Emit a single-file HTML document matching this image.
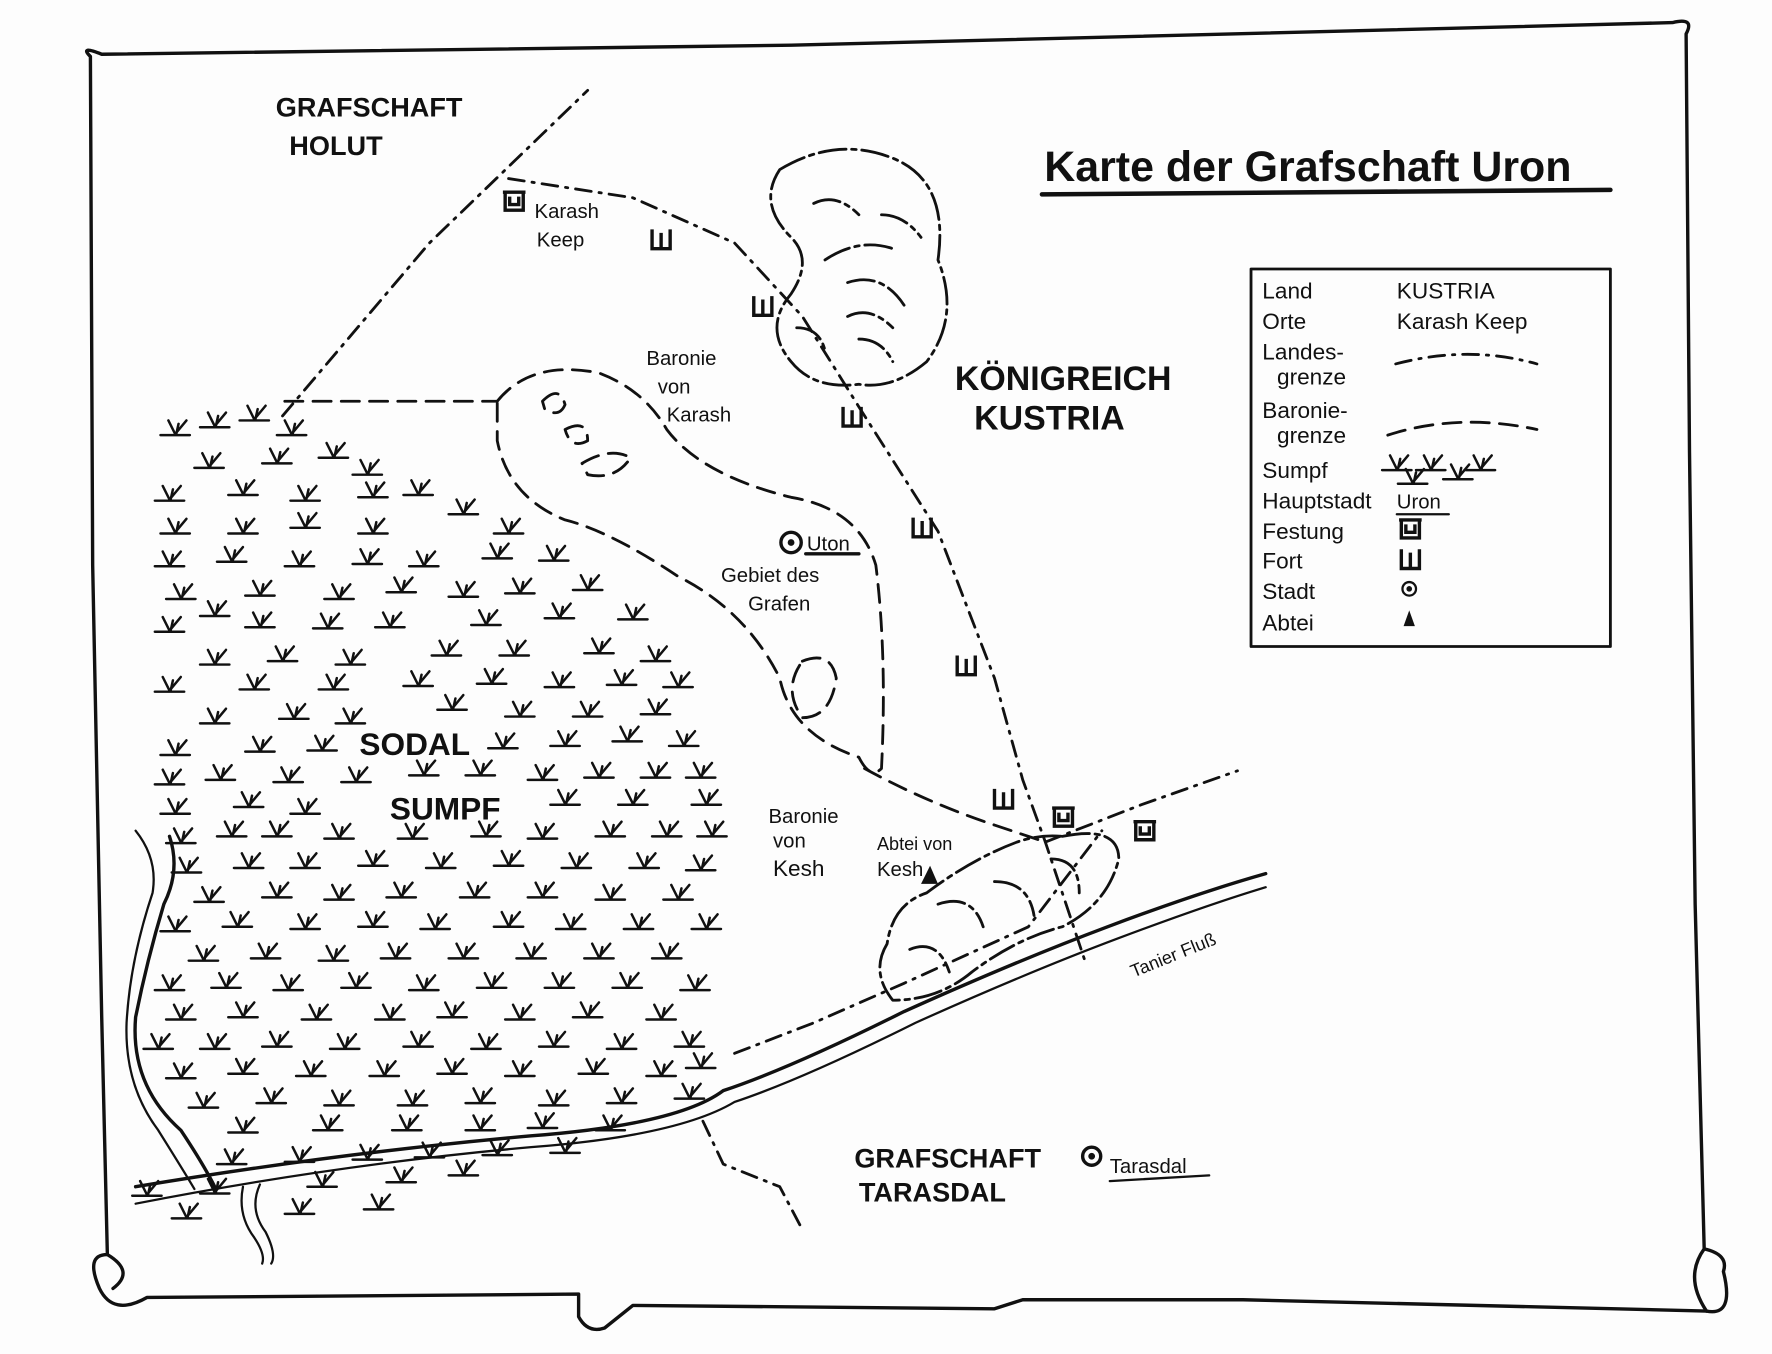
<!DOCTYPE html>
<html><head><meta charset="utf-8"><style>
html,body{margin:0;padding:0;background:#fff;}
svg{display:block;}
text{font-family:"Liberation Sans",sans-serif;font-weight:bold;fill:#111;}
.h{font-size:24px;}
.s{font-size:18px;font-weight:normal;}
.l{font-size:20px;font-weight:normal;}
</style></head><body>
<svg width="1772" height="1354" viewBox="0 0 1568 1198" preserveAspectRatio="none" xmlns="http://www.w3.org/2000/svg">
<defs>
<g id="t" fill="none" stroke="#111" stroke-width="2.2" stroke-linecap="round"><path d="M-13,0 L13,0 M-6,-13 L0,-1 L10,-13 M1,-1 L3,-10"/></g>
<g id="fe" fill="none" stroke="#111" stroke-width="3"><path d="M0,-10 L0,6 L16,6 L16,-10 M4,-6 L4,1 L12,1 L12,-6 M-2,-10 L18,-10"/></g>
<g id="fo" fill="none" stroke="#111" stroke-width="3"><path d="M0,-10 L0,7 L16,7 L16,-10 M8,-7 L8,7"/></g>
</defs>
<rect width="1568" height="1198" fill="#fdfdfd"/>
<g fill="none" stroke="#111" stroke-width="3" stroke-linecap="round" stroke-linejoin="round">
<path d="M80,50 Q70,40 90,48 L700,40 L1480,20 Q1500,15 1492,30 L1495,400 L1500,800 L1508,1105 Q1530,1110 1525,1125 Q1535,1165 1510,1160 L1100,1150 L905,1150 L880,1158 L560,1155 L535,1175 Q520,1180 512,1165 L512,1145 L130,1148 Q100,1165 88,1140 Q75,1110 95,1110 L90,900 L82,500 Z"/>
<path d="M1508,1105 Q1490,1130 1510,1160"/>
<path d="M95,1110 Q120,1125 100,1140"/>
<path d="M922,172 L1425,168" stroke-width="4"/>
<rect x="1107" y="238" width="318" height="334" stroke-width="2.5"/>
<g stroke-dasharray="14 7 2 7" stroke-width="2.5">
<path d="M250,368 L380,215 L520,80"/>
<path d="M450,158 L560,175 L650,215 L710,280 L760,360 L830,470 L880,600 L905,690 L925,745 L960,850"/>
<path d="M925,745 L1010,712 L1095,682"/>
<path d="M650,932 L720,905 L800,870 L910,820 L975,735"/>
<path d="M622,992 L640,1030 L690,1050 L710,1088"/>
<path d="M1235,322 Q1300,305 1360,322"/>
</g>
<g stroke-dasharray="16 9" stroke-width="2.5">
<path d="M252,355 L440,355"/>
<path d="M440,355 Q470,318 530,330 Q570,345 590,380 Q620,420 700,440 Q760,450 775,500 Q785,580 780,680 Q770,690 760,670 Q700,650 690,600 Q660,540 600,510 Q540,470 500,460 Q450,440 440,390 Z"/>
<path d="M765,680 Q820,710 880,730 L925,745"/>
<path d="M1228,385 Q1290,365 1360,380"/>
<path d="M480,355 Q495,340 500,358 Q495,370 482,362Z"/>
<path d="M500,380 Q520,370 520,390 Q505,398 500,380Z"/>
<path d="M515,410 Q540,395 558,405 Q545,425 520,420Z"/>
<path d="M710,585 Q735,575 740,600 Q735,635 710,635 Q692,610 710,585Z"/>
</g>
<g stroke-dasharray="24 5 4 5" stroke-width="2.5">
<path d="M690,150 Q740,120 790,140 Q840,160 830,230 Q850,280 820,320 Q790,345 760,340 Q720,345 700,320 Q675,290 700,260 Q720,230 700,210 Q670,180 690,150Z"/>
<path d="M720,180 Q740,170 760,190 M730,230 Q760,210 790,220 M750,250 Q780,240 800,270 M750,280 Q770,270 790,290 M760,300 Q780,300 790,320 M780,190 Q800,190 815,210 M705,290 Q725,290 730,310"/>
<path d="M940,740 Q990,730 990,760 Q980,800 940,820 Q900,830 860,860 Q830,885 790,885 Q770,860 785,835 Q790,800 820,790 Q860,760 900,745 Q920,738 940,740Z"/>
<path d="M830,800 Q860,790 870,820 M880,780 Q910,780 915,810 M805,840 Q830,830 840,860 M930,760 Q955,760 955,790"/>
</g>
<path d="M120,1050 Q300,1020 470,1005 Q600,995 640,965 Q700,945 800,895 Q900,850 980,820 Q1060,790 1120,773"/>
<path d="M120,1065 Q300,1030 470,1015 Q600,1005 650,975 Q710,955 810,905 Q910,860 990,830 Q1070,800 1120,785" stroke-width="2"/>
<path d="M150,740 Q160,770 145,800 Q130,850 120,900 Q115,960 160,1000 Q180,1030 190,1050"/>
<path d="M120,735 Q140,760 135,790 Q115,850 112,905 Q110,960 140,1000 Q165,1040 172,1052" stroke-width="2"/>
<path d="M230,1048 Q220,1070 235,1090 Q245,1110 240,1118 M215,1050 Q210,1075 225,1095 Q235,1110 232,1118" stroke-width="2"/>
<path d="M713,490 L760,490"/>
<path d="M982,1045 L1070,1040" stroke-width="2"/>
<path d="M1236,455 L1282,455" stroke-width="2"/>
<circle cx="700" cy="480" r="9"/><circle cx="700" cy="480" r="1.5" fill="#111"/>
<circle cx="966" cy="1023" r="8"/><circle cx="966" cy="1023" r="1.5" fill="#111"/>
<circle cx="1247" cy="521" r="6" stroke-width="2"/><circle cx="1247" cy="521" r="1" fill="#111"/>
</g>
<path d="M815,782 L823,766 L830,782Z" fill="#111"/>
<path d="M1242,554 L1247,540 L1252,554Z" fill="#111"/>
<use href="#fe" x="447" y="180"/><use href="#fe" x="933" y="725"/><use href="#fe" x="1005" y="737"/><use href="#fe" x="1240" y="470"/>
<use href="#fo" x="577" y="213"/><use href="#fo" x="667" y="272"/><use href="#fo" x="746" y="370"/><use href="#fo" x="808" y="468"/><use href="#fo" x="847" y="590"/><use href="#fo" x="880" y="708"/><use href="#fo" x="1240" y="496"/>
<use href="#t" x="1236" y="416"/><use href="#t" x="1266" y="416"/><use href="#t" x="1310" y="416"/><use href="#t" x="1250" y="428"/><use href="#t" x="1290" y="424"/>
<!-- swamp -->
<use href="#t" x="155" y="385"/><use href="#t" x="190" y="378"/><use href="#t" x="225" y="372"/><use href="#t" x="258" y="385"/>
<use href="#t" x="185" y="414"/><use href="#t" x="245" y="410"/><use href="#t" x="295" y="405"/><use href="#t" x="325" y="420"/>
<use href="#t" x="150" y="443"/><use href="#t" x="215" y="438"/><use href="#t" x="270" y="443"/><use href="#t" x="330" y="440"/><use href="#t" x="370" y="438"/>
<use href="#t" x="155" y="472"/><use href="#t" x="215" y="472"/><use href="#t" x="270" y="467"/><use href="#t" x="330" y="472"/><use href="#t" x="410" y="455"/><use href="#t" x="450" y="472"/>
<use href="#t" x="150" y="501"/><use href="#t" x="205" y="497"/><use href="#t" x="265" y="501"/><use href="#t" x="325" y="499"/><use href="#t" x="375" y="501"/><use href="#t" x="440" y="494"/><use href="#t" x="490" y="496"/>
<use href="#t" x="160" y="530"/><use href="#t" x="230" y="527"/><use href="#t" x="300" y="530"/><use href="#t" x="355" y="524"/><use href="#t" x="410" y="528"/><use href="#t" x="460" y="525"/><use href="#t" x="520" y="522"/>
<use href="#t" x="150" y="559"/><use href="#t" x="190" y="545"/><use href="#t" x="230" y="555"/><use href="#t" x="290" y="556"/><use href="#t" x="345" y="555"/><use href="#t" x="430" y="553"/><use href="#t" x="495" y="547"/><use href="#t" x="560" y="548"/>
<use href="#t" x="190" y="588"/><use href="#t" x="250" y="585"/><use href="#t" x="310" y="588"/><use href="#t" x="395" y="580"/><use href="#t" x="455" y="580"/><use href="#t" x="530" y="578"/><use href="#t" x="580" y="585"/>
<use href="#t" x="150" y="612"/><use href="#t" x="225" y="610"/><use href="#t" x="295" y="610"/><use href="#t" x="370" y="607"/><use href="#t" x="435" y="605"/><use href="#t" x="495" y="608"/><use href="#t" x="550" y="606"/><use href="#t" x="600" y="608"/>
<use href="#t" x="190" y="640"/><use href="#t" x="260" y="636"/><use href="#t" x="310" y="640"/><use href="#t" x="400" y="628"/><use href="#t" x="460" y="634"/><use href="#t" x="520" y="634"/><use href="#t" x="580" y="632"/>
<use href="#t" x="155" y="668"/><use href="#t" x="230" y="665"/><use href="#t" x="285" y="664"/><use href="#t" x="445" y="662"/><use href="#t" x="500" y="660"/><use href="#t" x="555" y="656"/><use href="#t" x="605" y="660"/>
<use href="#t" x="150" y="694"/><use href="#t" x="195" y="690"/><use href="#t" x="255" y="692"/><use href="#t" x="315" y="692"/><use href="#t" x="375" y="686"/><use href="#t" x="425" y="686"/><use href="#t" x="480" y="690"/><use href="#t" x="530" y="688"/><use href="#t" x="580" y="688"/><use href="#t" x="620" y="688"/>
<use href="#t" x="155" y="720"/><use href="#t" x="220" y="714"/><use href="#t" x="270" y="720"/><use href="#t" x="500" y="712"/><use href="#t" x="560" y="712"/><use href="#t" x="625" y="712"/>
<use href="#t" x="160" y="746"/><use href="#t" x="205" y="740"/><use href="#t" x="245" y="740"/><use href="#t" x="300" y="742"/><use href="#t" x="365" y="742"/><use href="#t" x="430" y="740"/><use href="#t" x="480" y="742"/><use href="#t" x="540" y="740"/><use href="#t" x="590" y="740"/><use href="#t" x="630" y="740"/>
<use href="#t" x="165" y="772"/><use href="#t" x="220" y="768"/><use href="#t" x="270" y="768"/><use href="#t" x="330" y="766"/><use href="#t" x="390" y="768"/><use href="#t" x="450" y="766"/><use href="#t" x="510" y="768"/><use href="#t" x="570" y="768"/><use href="#t" x="620" y="770"/>
<use href="#t" x="185" y="798"/><use href="#t" x="245" y="794"/><use href="#t" x="300" y="796"/><use href="#t" x="355" y="794"/><use href="#t" x="420" y="794"/><use href="#t" x="480" y="794"/><use href="#t" x="540" y="796"/><use href="#t" x="600" y="796"/>
<use href="#t" x="155" y="824"/><use href="#t" x="210" y="820"/><use href="#t" x="270" y="822"/><use href="#t" x="330" y="820"/><use href="#t" x="385" y="822"/><use href="#t" x="450" y="820"/><use href="#t" x="505" y="822"/><use href="#t" x="565" y="822"/><use href="#t" x="625" y="822"/>
<use href="#t" x="180" y="850"/><use href="#t" x="235" y="848"/><use href="#t" x="295" y="850"/><use href="#t" x="350" y="848"/><use href="#t" x="410" y="848"/><use href="#t" x="470" y="848"/><use href="#t" x="530" y="848"/><use href="#t" x="590" y="848"/>
<use href="#t" x="150" y="876"/><use href="#t" x="200" y="874"/><use href="#t" x="255" y="876"/><use href="#t" x="315" y="874"/><use href="#t" x="375" y="876"/><use href="#t" x="435" y="874"/><use href="#t" x="495" y="874"/><use href="#t" x="555" y="874"/><use href="#t" x="615" y="876"/>
<use href="#t" x="160" y="902"/><use href="#t" x="215" y="900"/><use href="#t" x="280" y="902"/><use href="#t" x="345" y="902"/><use href="#t" x="400" y="900"/><use href="#t" x="460" y="902"/><use href="#t" x="520" y="900"/><use href="#t" x="585" y="902"/>
<use href="#t" x="140" y="928"/><use href="#t" x="190" y="928"/><use href="#t" x="245" y="926"/><use href="#t" x="305" y="928"/><use href="#t" x="370" y="926"/><use href="#t" x="430" y="928"/><use href="#t" x="490" y="926"/><use href="#t" x="550" y="928"/><use href="#t" x="610" y="926"/>
<use href="#t" x="160" y="954"/><use href="#t" x="215" y="950"/><use href="#t" x="275" y="952"/><use href="#t" x="340" y="952"/><use href="#t" x="400" y="950"/><use href="#t" x="460" y="952"/><use href="#t" x="525" y="950"/><use href="#t" x="585" y="952"/><use href="#t" x="620" y="945"/>
<use href="#t" x="180" y="980"/><use href="#t" x="240" y="976"/><use href="#t" x="300" y="978"/><use href="#t" x="365" y="978"/><use href="#t" x="425" y="976"/><use href="#t" x="490" y="978"/><use href="#t" x="550" y="976"/><use href="#t" x="610" y="972"/>
<use href="#t" x="215" y="1002"/><use href="#t" x="290" y="1000"/><use href="#t" x="360" y="1000"/><use href="#t" x="425" y="1000"/><use href="#t" x="480" y="998"/><use href="#t" x="540" y="1000"/>
<use href="#t" x="205" y="1030"/><use href="#t" x="265" y="1028"/><use href="#t" x="325" y="1026"/><use href="#t" x="380" y="1024"/><use href="#t" x="440" y="1022"/><use href="#t" x="500" y="1020"/>
<use href="#t" x="130" y="1058"/><use href="#t" x="190" y="1056"/><use href="#t" x="285" y="1050"/><use href="#t" x="355" y="1046"/><use href="#t" x="410" y="1040"/>
<use href="#t" x="165" y="1078"/><use href="#t" x="265" y="1074"/><use href="#t" x="335" y="1070"/>
<text x="244" y="103" class="h">GRAFSCHAFT</text>
<text x="256" y="137" class="h">HOLUT</text>
<text x="924" y="160" style="font-size:38px;">Karte der Grafschaft Uron</text>
<text x="845" y="345" style="font-size:30px;">KÖNIGREICH</text>
<text x="862" y="380" style="font-size:30px;">KUSTRIA</text>
<text x="473" y="193" class="s">Karash</text>
<text x="475" y="218" class="s">Keep</text>
<text x="572" y="323" class="s">Baronie</text>
<text x="582" y="348" class="s">von</text>
<text x="590" y="373" class="s">Karash</text>
<text x="714" y="487" class="s">Uton</text>
<text x="638" y="515" class="s">Gebiet des</text>
<text x="662" y="540" class="s">Grafen</text>
<text x="318" y="668" style="font-size:28px;">SODAL</text>
<text x="345" y="725" style="font-size:28px;">SUMPF</text>
<text x="680" y="728" class="s">Baronie</text>
<text x="684" y="750" class="s">von</text>
<text x="684" y="775" class="l">Kesh</text>
<text x="776" y="752" class="s" style="font-size:16px">Abtei von</text>
<text x="776" y="775" class="s">Kesh</text>
<text x="1003" y="865" class="s" style="font-size:16px" transform="rotate(-22 1003 865)">Tanier Fluß</text>
<text x="756" y="1033" class="h">GRAFSCHAFT</text>
<text x="760" y="1063" class="h">TARASDAL</text>
<text x="982" y="1038" class="s">Tarasdal</text>
<text x="1117" y="264" class="l">Land</text>
<text x="1117" y="291" class="l">Orte</text>
<text x="1117" y="318" class="l">Landes-</text>
<text x="1130" y="340" class="l">grenze</text>
<text x="1117" y="370" class="l">Baronie-</text>
<text x="1130" y="392" class="l">grenze</text>
<text x="1117" y="423" class="l">Sumpf</text>
<text x="1117" y="450" class="l">Hauptstadt</text>
<text x="1117" y="477" class="l">Festung</text>
<text x="1117" y="503" class="l">Fort</text>
<text x="1117" y="530" class="l">Stadt</text>
<text x="1117" y="558" class="l">Abtei</text>
<text x="1236" y="264" class="l">KUSTRIA</text>
<text x="1236" y="291" class="l">Karash Keep</text>
<text x="1236" y="450" class="s">Uron</text>
</svg>
</body></html>
